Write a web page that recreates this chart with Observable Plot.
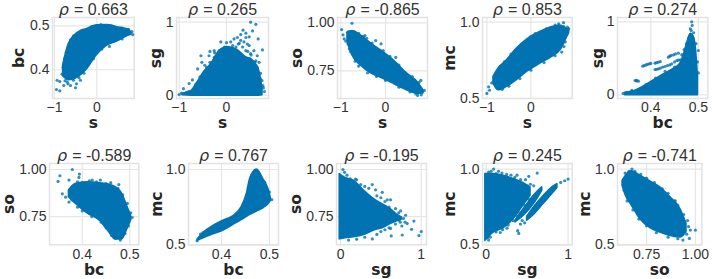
<!DOCTYPE html>
<html><head><meta charset="utf-8">
<script src="https://cdn.jsdelivr.net/npm/d3@7"></script>
<script src="https://cdn.jsdelivr.net/npm/@observablehq/plot@0.6"></script>
<style>body{margin:0;background:#fff}#c{position:relative;width:712px;height:279px;overflow:hidden}#c svg{position:absolute;overflow:visible;max-width:none}</style>
</head><body><div id="c"></div>
<script>
// Panel 1: s / bc
const p1BandX=[-.795,-.66,-.45,-.23,0,.244,.48,.756,.82];
const p1BandLo=[.385,.376,.382,.401,.433,.455,.464,.478,.48];
const p1BandHi=[.41,.459,.484,.493,.501,.502,.497,.491,.484];
const p1DotX=[-.937,-.874,-.953,-.874,-.78,-.70,-.62,-.504,-.48,-.386,-.62,-.55,-.35,-.12,.1,.35,.6,.75,.83,.85,-.72,-.76,-.82,-.8,.6,.3,.12,-.08,-.3,-.42,-.55,-.68,-.75];
const p1DotY=[.376,.373,.355,.352,.364,.372,.364,.359,.368,.376,.468,.477,.49,.498,.503,.5,.495,.492,.487,.48,.44,.425,.39,.405,.47,.453,.447,.425,.392,.382,.376,.368,.375];
// Panel 2: s / sg
const p2BandX=[-.93,-.75,-.61,-.47,-.33,-.155,.02,.23,.41,.55,.69,.76];
const p2BandLo=[0,-.005,-.005,-.005,-.005,-.005,-.005,-.005,-.005,-.005,-.005,0];
const p2BandHi=[.018,.055,.178,.32,.42,.6,.66,.62,.52,.48,.34,.08];
const p2DotX=[.51,.62,.55,.67,.76,.35,.41,.30,.16,.09,-.12,-.26,-.35,-.54,-.52,-.61,-.37,-.46,-.72,-.79,-.91,.44,.51,.65,.69,.62,.48,.23,-.04,-.19,-.32,.41,.27,.13,.48,.58,-.44,-.56,.73,.77,.09,.2,.34,.41,-.05,-.15,-.26,.48,.55,.3,.37,.72,.75,.78,.8,.72,.6,.65,-.7,-.65,-.55,-.5,-.42,-.35,-.25,0,.45,.52,.25,-1,-.95,-.85,-.8];
const p2DotY=[1.0,.97,.88,.77,.62,.89,.85,.83,.77,.73,.73,.61,.60,.54,.45,.36,.54,.41,.21,.16,.09,.70,.57,.54,.45,.47,.80,.79,.66,.54,.43,.79,.71,.68,.68,.61,.32,.25,.13,.13,.63,.66,.66,.61,.61,.61,.52,.50,.43,.75,.73,.3,.2,.1,.05,.22,.45,.38,.08,.15,.2,.28,.38,.45,.58,.72,.6,.55,.7,.01,.03,.04,.05];
// Panel 3: s / so
const p3BandX=[-.85,-.74,-.55,-.33,-.10,.19,.49,.72,.85];
const p3BandLo=[.90,.83,.778,.738,.714,.682,.648,.63,.634];
const p3BandHi=[.946,.957,.934,.894,.856,.804,.734,.691,.648];
const p3DotX=[-.98,-.95,-.925,-.75,-.85,-.81,-.89,-.46,-.22,-.10,.79,.82,.72,.87,.23,-.82,-.7,-.6,-.5,-.42,-.3,-.05,.1,.3,.45,.6,.75,-.84,-.78,-.68,-.6,-.4,-.2,0,.3,.55,.68,.8];
const p3DotY=[.965,.9375,.917,.998,.951,.865,.905,.934,.908,.891,.70,.639,.622,.648,.82,.955,.952,.945,.93,.92,.895,.855,.825,.78,.74,.72,.69,.89,.85,.8,.775,.74,.72,.70,.665,.64,.63,.625];
// Panel 4: s / mc
const p4BandX=[-.85,-.735,-.545,-.32,-.09,.21,.48,.67,.82,.87];
const p4BandLo=[.598,.554,.576,.62,.674,.728,.772,.815,.90,.93];
const p4BandHi=[.641,.696,.75,.826,.885,.935,.967,.978,.955,.95];
const p4DotX=[-1,-.94,-.96,-.89,.63,.74,.83,.82,.86,.70,-.82,-.7,-.6,-.45,-.2,0,.1,.35,.55,.75,-.78,-.65,-.5,-.25,0,.3,.55,.75,.78];
const p4DotY=[.533,.554,.576,.602,.989,.996,.967,.924,.957,.804,.63,.71,.74,.79,.855,.905,.925,.955,.98,.97,.575,.56,.58,.63,.685,.735,.78,.84,.87];
// Panel 5: bc / sg
const p5BandX=[.346,.364,.385,.406,.427,.448,.462,.47,.477,.484,.49,.495,.499];
const p5BandLo=[-.005,-.005,-.005,-.005,-.005,-.005,-.005,-.005,-.005,-.005,-.005,-.005,-.005];
const p5BandHi=[.027,.05,.114,.196,.279,.356,.425,.56,.72,.835,.80,.62,.25];
const p5DotX=[.383,.39,.397,.409,.416,.437,.448,.458,.409,.416,.43,.444,.455,.462,.367,.374,.486,.483,.5,.386,.393,.40,.412,.42,.44,.443,.452,.412,.42,.425,.435,.44,.45,.458,.37,.37,.465,.47,.475,.48,.485,.487,.49,.495,.498,.5,.35,.342,.36,.39,.41,.43,.45];
const p5DotY=[.393,.41,.425,.434,.447,.516,.548,.571,.347,.356,.388,.425,.47,.479,.196,.187,1.0,.904,.607,.40,.418,.43,.44,.455,.53,.54,.56,.35,.365,.38,.40,.41,.45,.475,.19,.2,.55,.62,.70,.78,.88,.95,.85,.7,.45,.3,.035,.02,.06,.14,.23,.32,.38];
// Panel 6: bc / so
const b1BandX=[.372,.386,.41,.438,.456,.47,.484,.494,.503];
const b1BandLo=[.853,.818,.769,.726,.67,.629,.629,.678,.731];
const b1BandHi=[.888,.923,.932,.927,.92,.906,.871,.809,.752];
const b1DotX=[.349,.353,.394,.379,.372,.358,.365,.372,.393,.438,.477,.421,.38,.39,.40,.415,.43,.45,.46,.475,.485,.495,.502,.505,.378,.39,.40,.42,.44,.45,.462,.47,.48,.49,.497];
const b1DotY=[.937,.967,.976,1.0,.944,.871,.853,.827,.958,.944,.92,.944,.91,.935,.93,.94,.935,.925,.93,.9,.865,.82,.77,.745,.84,.8,.78,.75,.72,.69,.65,.635,.625,.66,.7];
// Panel 7: bc / mc
const b2BandX=[.35,.3625,.383,.404,.425,.442,.453,.46,.474,.4875,.498,.503];
const b2BandLo=[.527,.544,.57,.595,.633,.664,.686,.699,.721,.743,.77,.792];
const b2BandHi=[.535,.58,.625,.66,.69,.75,.84,.94,1.0,.935,.869,.81];
const b2DotX=[.356,.361,.349,.356,.37,.38,.39,.41,.43,.445,.456,.463,.47,.48,.49,.5,.505];
const b2DotY=[.571,.58,.527,.55,.59,.61,.63,.665,.70,.76,.88,.96,.99,.96,.915,.85,.8];
// Panel 8: sg / so
const b3BandX=[-.01,.06,.165,.29,.41,.54,.62,.70,.76];
const b3BandLo=[.629,.635,.64,.652,.675,.692,.71,.725,.735];
const b3BandHi=[.976,.955,.941,.888,.844,.81,.79,.76,.745];
const b3DotX=[.03,.186,.393,.434,.517,.62,.682,.744,.806,.909,.88,1.0,.971,.764,.628,.62,.393,.826,.723,.579,.6,.58,.62,.66,.7,.72,.74,.78,.8,.76,.68,.55,.5,.45,.35,.3,.25,.2,.12,.08,.05,.1,.2,.3,.45,.5,.55,.6];
const b3DotY=[1.0,.949,.92,.892,.879,.839,.792,.78,.757,.726,.682,.67,.649,.652,.647,.687,.631,.713,.731,.839,.8,.76,.74,.77,.75,.77,.72,.74,.72,.70,.71,.83,.85,.86,.9,.91,.92,.945,.95,.97,.985,.625,.63,.64,.655,.67,.68,.69];
// Panel 9: sg / mc (main body and two diagonal streaks)
const b4BandX=[-.01,.09,.213,.336,.439,.541];
const b4BandLo=[.526,.581,.61,.67,.747,.824];
const b4BandHi=[.967,.967,.956,.934,.912,.879];
const b4Streak1X=[.357,.459,.582,.684];
const b4Streak1Lo=[.648,.692,.769,.857];
const b4Streak1Hi=[.659,.736,.824,.879];
const b4Streak2X=[.5,.582,.705,.807,.869];
const b4Streak2Lo=[.659,.698,.773,.835,.874];
const b4Streak2Hi=[.685,.747,.824,.879,.901];
const b4DotX=[1.0,.959,.91,.623,.52,.377,.303,.193,.09,.418,.385,.398,.029,.016,.172,.254,.03,.06,.12,.15,.25,.35,.42,.48,.54,.58,.05,.12,.2,.27,.33,.38,.41,.47,.52,.44,.47];
const b4DotY=[.934,.923,.912,.974,.952,.96,.96,.974,1.0,.637,.593,.575,.531,.548,.581,.61,.98,.985,.97,.985,.965,.945,.93,.93,.9,.89,.55,.585,.6,.63,.66,.69,.71,.76,.80,.66,.645];
// Panel 10: so / mc
const b5BandX=[.627,.644,.675,.717,.769,.82,.872,.923,.954];
const b5BandLo=[.89,.824,.758,.67,.61,.581,.559,.548,.585];
const b5BandHi=[.919,.956,.985,.956,.919,.879,.813,.736,.64];
const b5DotX=[.64,.675,.974,1.0,.969,.936,.897,.63,.65,.66,.69,.72,.75,.79,.83,.86,.89,.91,.94,.96,.965,.955,.91,.86,.8,.75,.71,.68,.65,.635];
const b5DotY=[.974,1.0,.597,.597,.542,.531,.791,.93,.965,.985,.985,.965,.94,.91,.87,.84,.79,.76,.70,.66,.62,.57,.54,.55,.58,.625,.67,.73,.79,.86];

const titles=["0.663","0.265","-0.865","0.853","0.274","-0.589","0.767","-0.195","0.245","-0.741"];
const xNames=["s","s","s","s","bc","bc","bc","sg","sg","so"];
const yNames=["bc","sg","so","mc","sg","so","mc","so","mc","mc"];
const xTicks=[[-1,0],[-1,0],[-1,0],[-1,0],[.4,.5],[.4,.5],[.4,.5],[0,1],[0,1],[.75,1]];
const yTicks=[[.4,.5],[0,1],[.75,1],[.5,1],[0,1],[.75,1],[.5,1],[.75,1],[.5,1],[.5,1]];
const xFormats=["d","d","d","d",".1f",".1f",".1f","d","d",".2f"];
const yFormats=[".1f","d",".2f",".1f","d",".2f",".1f",".2f",".1f",".1f"];

const bands=[
 [[p1BandX,p1BandLo,p1BandHi]],[[p2BandX,p2BandLo,p2BandHi]],[[p3BandX,p3BandLo,p3BandHi]],[[p4BandX,p4BandLo,p4BandHi]],[[p5BandX,p5BandLo,p5BandHi]],
 [[b1BandX,b1BandLo,b1BandHi]],[[b2BandX,b2BandLo,b2BandHi]],[[b3BandX,b3BandLo,b3BandHi]],
 [[b4BandX,b4BandLo,b4BandHi],[b4Streak1X,b4Streak1Lo,b4Streak1Hi],[b4Streak2X,b4Streak2Lo,b4Streak2Hi]],[[b5BandX,b5BandLo,b5BandHi]]];
const dots=[[p1DotX,p1DotY],[p2DotX,p2DotY],[p3DotX,p3DotY],[p4DotX,p4DotY],[p5DotX,p5DotY],[b1DotX,b1DotY],[b2DotX,b2DotY],[b3DotX,b3DotY],[b4DotX,b4DotY],[b5DotX,b5DotY]];

// layout: frame left, frame right, x domain, y domain, frame top, frame bottom, y label offset
const layout=[
 {l:52,r:133.7,xd:[-1.047,.885],yd:[.3345,.519],t:17,b:98,yo:-33},
 {l:175.7,r:267.7,xd:[-1.057,.888],yd:[-.045,1.064],t:17,b:98,yo:-20},
 {l:336.7,r:426.7,xd:[-1.074,.94],yd:[.606,1.028],t:17,b:98,yo:-40.7},
 {l:482.3,r:572,xd:[-1.1,.938],yd:[.5,1.03],t:17,b:98,yo:-32},
 {l:617.3,r:707.7,xd:[.33,.52],yd:[-.05,1.059],t:17,b:98,yo:-19},
 {l:49,r:138.3,xd:[.331,.519],yd:[.6,1.032],t:162.7,b:244,yo:-40},
 {l:188.3,r:278.3,xd:[.331,.519],yd:[.5,1.04],t:162.7,b:244,yo:-31},
 {l:336,r:426,xd:[-.05,1.065],yd:[.6,1.032],t:162.7,b:244,yo:-40},
 {l:482.3,r:572,xd:[-.045,1.05],yd:[.5,1.037],t:162.7,b:244,yo:-32},
 {l:617.3,r:701.7,xd:[.601,1.033],yd:[.5,1.037],t:162.7,b:244,yo:-32}];

const color="#0173b2", sans="'Liberation Sans',Arial,sans-serif", label="'DejaVu Sans',sans-serif";
const host=document.getElementById("c");
layout.forEach((L,i)=>{
  const mL=52,mT=17,mB=35,mR=4;
  const areas=bands[i].map(([xs,lo,hi])=>Plot.areaY(xs.map((x,k)=>({x,lo:lo[k],hi:hi[k]})),{x:"x",y1:"lo",y2:"hi",fill:color,stroke:color,strokeWidth:1.6,curve:"monotone-x"}));
  const pts=dots[i][0].map((x,k)=>({x,y:dots[i][1][k]}));
  const svg=Plot.plot({
    width:L.r-L.l+mL+mR,height:L.b-L.t+mT+mB,
    marginLeft:mL,marginRight:mR,marginTop:mT,marginBottom:mB,
    style:{background:"transparent"},
    x:{domain:L.xd,axis:null},y:{domain:L.yd,axis:null},
    marks:[
      Plot.gridX(xTicks[i],{stroke:"#e6e6e6",strokeOpacity:1,strokeWidth:1.2}),
      Plot.gridY(yTicks[i],{stroke:"#e6e6e6",strokeOpacity:1,strokeWidth:1.2}),
      Plot.frame({stroke:"#e2e2e2",strokeWidth:1.5}),
      ...areas,
      Plot.dot(pts,{x:"x",y:"y",r:1.6,fill:color,fillOpacity:.8,stroke:"none"}),
      Plot.axisX(xTicks[i],{tickSize:0,tickPadding:4,fontSize:14,tickFormat:d3.format(xFormats[i]),fontFamily:sans,fill:"#333",label:null}),
      Plot.axisY(yTicks[i],{tickSize:0,tickPadding:3,fontSize:14,tickFormat:d3.format(yFormats[i]),fontFamily:sans,fill:"#333",label:null}),
      Plot.text([xNames[i]],{text:d=>d,frameAnchor:"bottom",lineAnchor:"middle",dy:25,fontSize:15.5,fontWeight:"bold",fontFamily:label,fill:"#262626"}),
      Plot.text([yNames[i]],{text:d=>d,frameAnchor:"left",rotate:-90,lineAnchor:"middle",textAnchor:"middle",dx:L.yo,fontSize:15.5,fontWeight:"bold",fontFamily:label,fill:"#262626"}),
      Plot.text(["= "+titles[i]],{text:d=>d,frameAnchor:"top",lineAnchor:"middle",dy:-7.5,fontSize:16,fontFamily:sans,fill:"#333"})
    ]
  });
  svg.style.left=(L.l-mL)+"px"; svg.style.top=(L.t-mT)+"px";
  const ns="http://www.w3.org/2000/svg";
  svg.querySelectorAll("text").forEach(t=>{
    if(!t.textContent.startsWith("= "))return;
    const s=t.textContent; t.textContent="";
    const a=document.createElementNS(ns,"tspan"); a.setAttribute("font-style","italic"); a.setAttribute("font-family","'DejaVu Sans'"); a.textContent="ρ "; t.appendChild(a);
    const b=document.createElementNS(ns,"tspan"); b.textContent=s; t.appendChild(b);
  });
  host.appendChild(svg);
});
</script></body></html>
